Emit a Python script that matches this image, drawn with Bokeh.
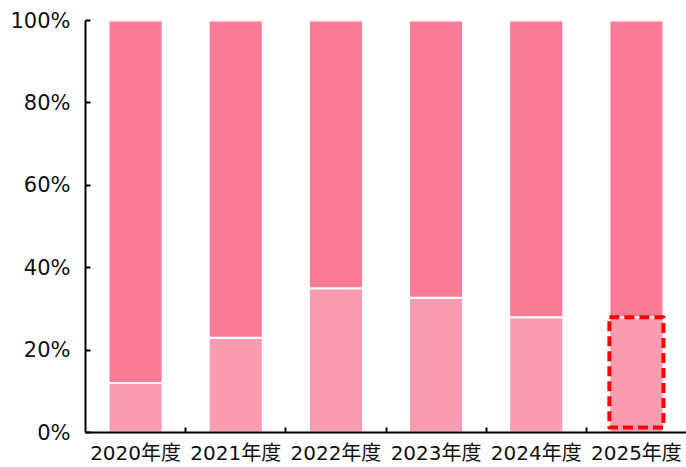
from bokeh.plotting import figure
from bokeh.models import Range1d, FixedTicker, ColumnDataSource
from bokeh.embed import file_html
from bokeh.resources import INLINE

# ---- data ----
years = ["2020年度", "2021年度", "2022年度", "2023年度", "2024年度", "2025年度"]
share_lower = [12, 23, 35, 32.7, 28, 28]        # %
share_upper = [100 - v for v in share_lower]    # %
y_ticks = [0, 20, 40, 60, 80, 100]
highlight_year = "2025年度"

LIGHT = "#F99CB1"
DARK = "#FB7A96"
FONT = "DejaVu Sans, Noto Sans CJK JP"

xs = [i + 0.5 for i in range(len(years))]
src = ColumnDataSource(dict(x=xs, lower=share_lower, upper=share_upper))

p = figure(width=686, height=467, output_backend="svg", toolbar_location=None,
           x_range=Range1d(0, len(years)), y_range=Range1d(0, 100),
           min_border_left=85, min_border_right=0, min_border_top=20, min_border_bottom=34)

BAR_W = 0.54
p.vbar_stack(["lower", "upper"], x="x", width=BAR_W, source=src,
             fill_color=[LIGHT, DARK], line_color="white", line_width=2)

# dashed highlight box
hi = years.index(highlight_year)
hsrc = ColumnDataSource(dict(x=[xs[hi]], top=[share_lower[hi]]))
p.vbar(x="x", top="top", bottom=1.2, width=BAR_W, source=hsrc,
       fill_color=None, line_color="#FF0000", line_width=4, line_dash="10 5",
       line_join="round")

p.xgrid.visible = False
p.ygrid.visible = False
p.outline_line_color = None

# y axis
ya = p.yaxis[0]
ya.ticker = FixedTicker(ticks=y_ticks)
ya.major_label_overrides = {t: f"{t}%" for t in y_ticks}
ya.major_tick_in = 5
ya.major_tick_out = 0
ya.minor_tick_in = 0
ya.minor_tick_out = 0
ya.axis_line_width = 2
ya.major_tick_line_width = 2
ya.axis_line_color = "black"
ya.major_label_text_font = FONT
ya.major_label_text_font_size = "21px"
ya.major_label_text_color = "#111111"
ya.major_label_standoff = 15

# x axis
xa = p.xaxis[0]
xa.ticker = FixedTicker(ticks=xs, minor_ticks=list(range(1, len(years))))
xa.major_label_overrides = {x: y for x, y in zip(xs, years)}
xa.major_tick_in = 0
xa.major_tick_out = 0
xa.minor_tick_in = 5
xa.minor_tick_out = 0
xa.minor_tick_line_width = 2
xa.minor_tick_line_color = "black"
xa.axis_line_width = 2
xa.axis_line_color = "black"
xa.major_label_text_font = FONT
xa.major_label_text_font_size = "20px"
xa.major_label_text_color = "#111111"
xa.major_label_standoff = 8

open("out.html", "w").write(file_html(p, INLINE))
